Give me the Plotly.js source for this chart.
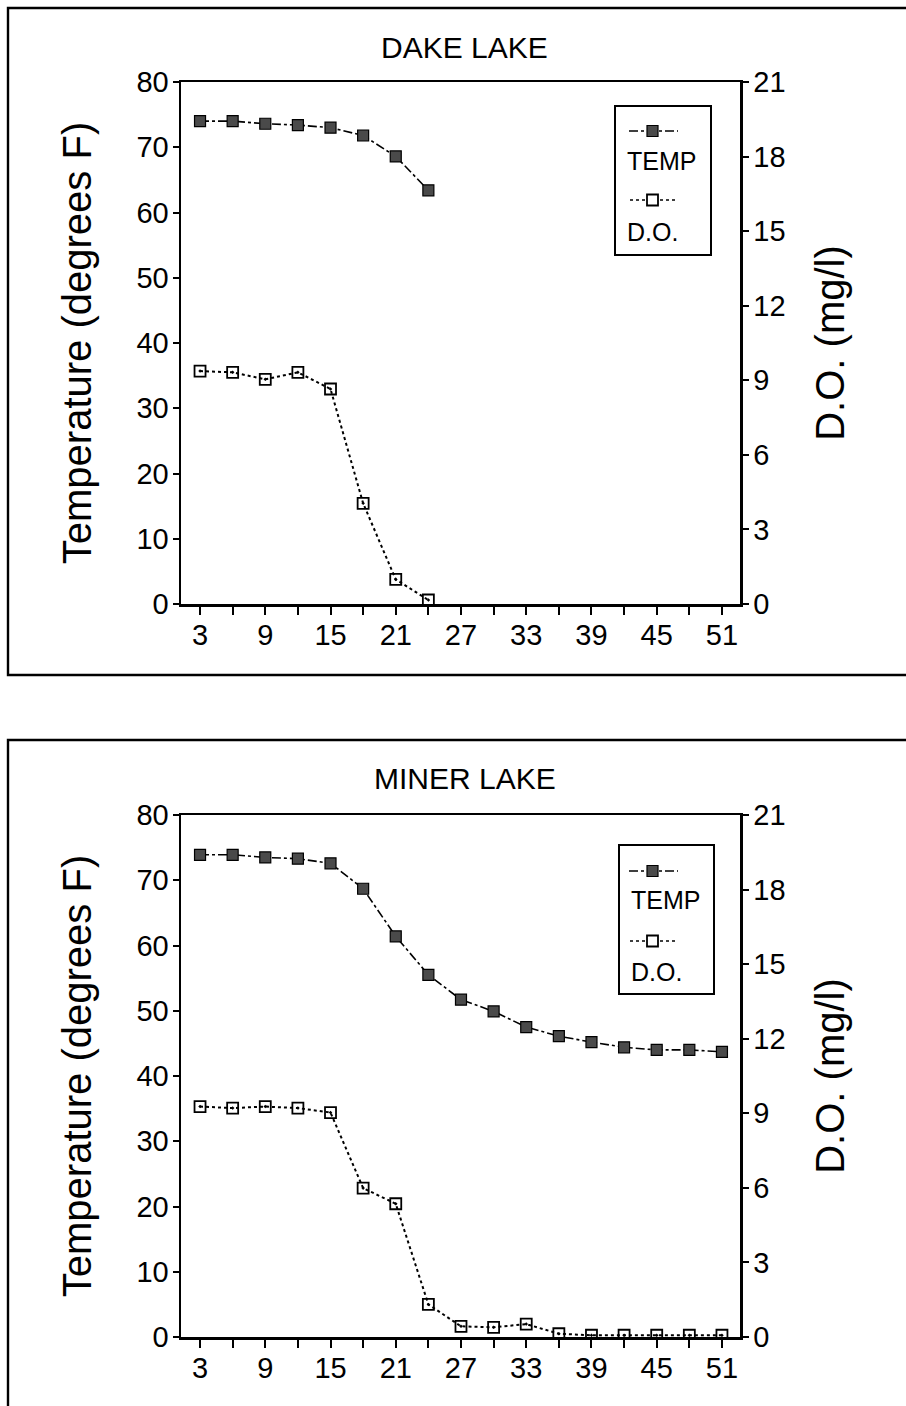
<!DOCTYPE html>
<html>
<head>
<meta charset="utf-8">
<script src="https://cdn.plot.ly/plotly-3.0.1.min.js"></script>
<style>
  html, body { margin: 0; padding: 0; background: #fff; }
  #chart { width: 906px; height: 1406px; }
</style>
</head>
<body>
<div id="chart"></div>
<script>
// ---------------- DATA ----------------
const panelTitles = ["DAKE LAKE", "MINER LAKE"];
const seriesNames = ["TEMP", "D.O."];

const depthDake = [3, 6, 9, 12, 15, 18, 21, 24];
const tempDake  = [74.0, 74.0, 73.6, 73.4, 73.0, 71.8, 68.6, 63.4];
const doDake    = [9.37, 9.32, 9.04, 9.32, 8.65, 4.05, 0.99, 0.16];

const depthMiner = [3, 6, 9, 12, 15, 18, 21, 24, 27, 30, 33, 36, 39, 42, 45, 48, 51];
const tempMiner  = [73.9, 73.9, 73.5, 73.3, 72.6, 68.7, 61.4, 55.5, 51.7, 49.9, 47.5, 46.1, 45.2, 44.4, 44.0, 44.0, 43.7];
const doMiner    = [9.27, 9.21, 9.27, 9.21, 9.03, 5.99, 5.36, 1.31, 0.43, 0.39, 0.52, 0.13, 0.07, 0.07, 0.07, 0.07, 0.07];

const xTickVals = [3, 6, 9, 12, 15, 18, 21, 24, 27, 30, 33, 36, 39, 42, 45, 48, 51];
const xTickText = ["3", "", "9", "", "15", "", "21", "", "27", "", "33", "", "39", "", "45", "", "51"];
const yTickVals = [0, 10, 20, 30, 40, 50, 60, 70, 80];
const y2TickVals = [0, 3, 6, 9, 12, 15, 18, 21];
const yTitle = "Temperature (degrees F)";
const y2Title = "D.O. (mg/l)";

// ---------------- LAYOUT HELPERS ----------------
const W = 906, H = 1406;
const px = x => x / W;
const py = y => 1 - y / H;
const FONT = "Liberation Sans, Arial, sans-serif";

const panels = [
  { depth: depthDake, temp: tempDake, dox: doDake, top: 82, bottom: 604, titleY: 47,
    legend: { x0: 615, x1: 711, y0: 106, y1: 255, t1: 131, l1: 161, t2: 200, l2: 232 } },
  { depth: depthMiner, temp: tempMiner, dox: doMiner, top: 815, bottom: 1337, titleY: 778,
    legend: { x0: 619, x1: 714, y0: 845, y1: 994, t1: 871, l1: 900, t2: 941, l2: 972 } }
];

const plotLeft = 181, plotRight = 740;
const traces = [];
const layout = {
  width: W, height: H,
  margin: { l: 0, r: 0, t: 0, b: 0 },
  paper_bgcolor: "#fff", plot_bgcolor: "#fff",
  showlegend: false,
  font: { family: FONT, color: "#000" },
  shapes: [], annotations: []
};

panels.forEach((p, i) => {
  const xa = i === 0 ? "x" : "x2";
  const ya = i === 0 ? "y" : "y3";
  const ya2 = i === 0 ? "y2" : "y4";
  const xKey = i === 0 ? "xaxis" : "xaxis2";
  const yKey = i === 0 ? "yaxis" : "yaxis3";
  const y2Key = i === 0 ? "yaxis2" : "yaxis4";

  traces.push({
    x: p.depth, y: p.temp, xaxis: xa, yaxis: ya, name: seriesNames[0],
    type: "scatter", mode: "lines+markers",
    line: { color: "#000", width: 1.6, dash: "dashdot" },
    marker: { symbol: "square", size: 11, color: "#4a4a4a", line: { color: "#000", width: 1.2 } }
  });
  traces.push({
    x: p.depth, y: p.dox, xaxis: xa, yaxis: ya2, name: seriesNames[1],
    type: "scatter", mode: "lines+markers",
    line: { color: "#000", width: 2, dash: "dot" },
    marker: { symbol: "square-open-dot", size: 11, color: "#000", line: { color: "#000", width: 1.8 } }
  });

  const domY = [py(p.bottom), py(p.top)];
  const tickFont = { family: FONT, size: 29, color: "#000" };
  const titleFont = { family: FONT, size: 40, color: "#000" };
  layout[xKey] = {
    domain: [px(plotLeft), px(plotRight)], anchor: ya,
    range: [1.25, 52.66], tickmode: "array", tickvals: xTickVals, ticktext: xTickText,
    ticks: "outside", ticklen: 8, tickwidth: 2, tickcolor: "#000",
    ticklabelstandoff: -4,
    showline: true, linewidth: 2.5, linecolor: "#000", mirror: true,
    showgrid: false, zeroline: false, fixedrange: true,
    tickfont: tickFont
  };
  layout[yKey] = {
    domain: domY, anchor: xa, range: [0, 80],
    tickmode: "array", tickvals: yTickVals,
    ticks: "outside", ticklen: 6, tickwidth: 2, tickcolor: "#000",
    ticklabelstandoff: -2,
    showline: true, linewidth: 2.5, linecolor: "#000",
    showgrid: false, zeroline: false, fixedrange: true,
    tickfont: tickFont,
    title: { text: yTitle, font: titleFont, standoff: 33 }
  };
  layout[y2Key] = {
    overlaying: ya, side: "right", anchor: xa, range: [0, 21],
    tickmode: "array", tickvals: y2TickVals,
    ticks: "outside", ticklen: 6, tickwidth: 2, tickcolor: "#000",
    ticklabelstandoff: -1,
    showline: true, linewidth: 2.5, linecolor: "#000",
    showgrid: false, zeroline: false, fixedrange: true,
    tickfont: tickFont,
    title: { text: y2Title, font: titleFont, standoff: 32 }
  };

  // panel title
  layout.annotations.push({
    xref: "paper", yref: "paper", x: px(465), y: py(p.titleY),
    text: panelTitles[i], showarrow: false, xanchor: "center", yanchor: "middle",
    font: { family: FONT, size: 30, color: "#000" }
  });

  // legend (drawn box style: sample above label)
  const L = p.legend;
  layout.shapes.push({ type: "rect", xref: "paper", yref: "paper",
    x0: px(L.x0), x1: px(L.x1), y0: py(L.y1), y1: py(L.y0),
    line: { color: "#000", width: 2 }, fillcolor: "rgba(0,0,0,0)" });
  layout.shapes.push({ type: "line", xref: "paper", yref: "paper",
    x0: px(629), x1: px(678), y0: py(L.t1), y1: py(L.t1),
    line: { color: "#000", width: 1.6, dash: "dashdot" } });
  layout.shapes.push({ type: "rect", xref: "paper", yref: "paper",
    x0: px(647), x1: px(658), y0: py(L.t1 + 5.5), y1: py(L.t1 - 5.5),
    line: { color: "#000", width: 1.2 }, fillcolor: "#4a4a4a" });
  layout.shapes.push({ type: "line", xref: "paper", yref: "paper",
    x0: px(630), x1: px(677), y0: py(L.t2), y1: py(L.t2),
    line: { color: "#000", width: 1.6, dash: "dot" } });
  layout.shapes.push({ type: "rect", xref: "paper", yref: "paper",
    x0: px(647), x1: px(658), y0: py(L.t2 + 5.5), y1: py(L.t2 - 5.5),
    line: { color: "#000", width: 1.8 }, fillcolor: "#fff" });
  layout.annotations.push({
    xref: "paper", yref: "paper", x: px(L.x0 + 10), y: py(L.l1),
    text: seriesNames[0], showarrow: false, xanchor: "left", yanchor: "middle",
    font: { family: FONT, size: 25, color: "#000" }
  });
  layout.annotations.push({
    xref: "paper", yref: "paper", x: px(L.x0 + 10), y: py(L.l2),
    text: seriesNames[1], showarrow: false, xanchor: "left", yanchor: "middle",
    font: { family: FONT, size: 25, color: "#000" }
  });
});

// outer panel frames
layout.shapes.push({ type: "rect", xref: "paper", yref: "paper",
  x0: px(8), x1: px(920), y0: py(675), y1: py(8),
  line: { color: "#000", width: 2.4 }, fillcolor: "rgba(0,0,0,0)" });
layout.shapes.push({ type: "rect", xref: "paper", yref: "paper",
  x0: px(8), x1: px(920), y0: py(1420), y1: py(740),
  line: { color: "#000", width: 2.4 }, fillcolor: "rgba(0,0,0,0)" });

Plotly.newPlot("chart", traces, layout, { staticPlot: true, displayModeBar: false });
</script>
</body>
</html>
